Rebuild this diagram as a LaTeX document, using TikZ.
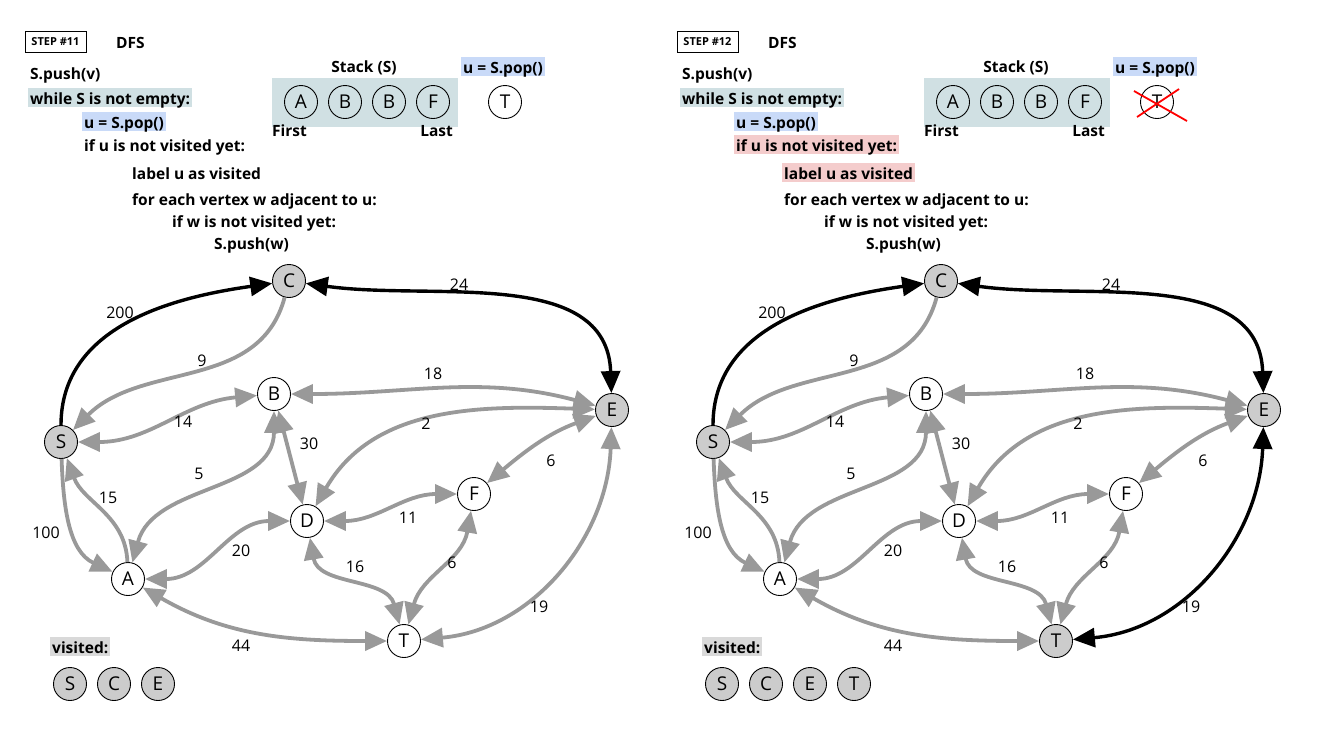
\documentclass[tikz,border=0pt]{standalone}
\usepackage{fontspec}
\setmainfont{Open Sans}
\usetikzlibrary{arrows.meta}
\definecolor{edgegrey}{HTML}{999999}
\definecolor{seengrey}{HTML}{CCCCCC}
\definecolor{stackteal}{HTML}{D0E0E3}
\definecolor{popblue}{HTML}{C9DAF8}
\definecolor{checkred}{HTML}{F4CCCC}
\definecolor{visitgrey}{HTML}{D9D9D9}
\tikzset{
    bigtip/.tip={Triangle[length=22pt, width=19pt]}, % the heavy arrow heads
    vertex/.style={circle, draw, line width=0.9pt, fill=white, minimum size=33pt, inner sep=0pt, font=\fontsize{19}{19}\selectfont},
    seen/.style={vertex, fill=seengrey}, % visited vertices
    weight/.style={inner sep=0pt, font=\fontsize{16}{16}\selectfont},
    code/.style={anchor=base west, inner xsep=2pt, inner ysep=1pt, text height=15pt, text depth=2pt, font=\fontsize{15.5}{18}\selectfont\bfseries},
    stepbox/.style={draw, line width=0.9pt, inner sep=0pt, minimum width=61pt, minimum height=21pt, font=\fontsize{11}{11}\selectfont\bfseries},
    grey edge/.style={draw=edgegrey, line width=3.8pt, bigtip-bigtip},
    black edge/.style={draw=black, line width=3.4pt, bigtip-bigtip},
    }

\begin{document}
\begin{tikzpicture}[x=1pt, y=1pt]
    \useasboundingbox (0,0) rectangle (1323,-748);

    % ---------- step 11 ----------
    \node[stepbox] (step11) at (55.5,-41.5) {STEP \#11};
    \node[code] (dfs11) at (114,-48) {DFS};
    \node[code] (push11) at (28,-79) {S.push(v)};
    \node[code, fill=stackteal] (while11) at (28,-104) {while S is not empty:};
    \node[code, fill=popblue] (pop11) at (82,-128) {u = S.pop()};
    \node[code] (ifu11) at (82,-151) {if u is not visited yet:};
    \node[code] (label11) at (130,-179) {label u as visited};
    \node[code] (for11) at (130,-205) {for each vertex w adjacent to u:};
    \node[code] (ifw11) at (170,-227) {if w is not visited yet:};
    \node[code] (pushw11) at (212,-249) {S.push(w)};

    \node[code, anchor=base] (stack11) at (364,-72) {Stack (S)};
    \fill[stackteal] (272,-78) rectangle (458,-127);
    \node[vertex, fill=none] (sa11) at (301,-102) {A};
    \node[vertex, fill=none] (sb11) at (345,-102) {B};
    \node[vertex, fill=none] (sc11) at (389,-102) {B};
    \node[vertex, fill=none] (sd11) at (433,-102) {F};
    \node[code] (first11) at (270,-136) {First};
    \node[code, anchor=base east] (last11) at (455,-136) {Last};
    \node[code, fill=popblue] (popped11) at (461,-73) {u = S.pop()};
    \node[vertex] (u11) at (505,-102) {T};

    \node[seen] (C11) at (289,-281) {C};
    \node[seen] (S11) at (61,-442) {S};
    \node[vertex] (B11) at (274,-394) {B};
    \node[seen] (E11) at (612,-410) {E};
    \node[vertex] (D11) at (307,-521) {D};
    \node[vertex] (F11) at (474,-494) {F};
    \node[vertex] (A11) at (128,-579) {A};
    \node[vertex] (T11) at (404,-641) {T};

    \draw[black edge, -bigtip] (S11) to[out=90, in=188] (C11);
    \draw[black edge] (C11) to[out=-8, in=92] (E11);
    \draw[grey edge, -bigtip] (C11) to[out=-105, in=45] (S11);
    \draw[grey edge] (S11) to[out=0, in=185] (B11);
    \draw[grey edge, -bigtip] (S11) to[out=-88, in=155] (A11);
    \draw[grey edge, -bigtip] (A11) to[out=92, in=-70] (S11);
    \draw[grey edge] (A11) to[out=75, in=-90] (B11);
    \draw[grey edge] (B11) -- (D11);
    \draw[grey edge] (B11) to[out=0, in=165] (E11);
    \draw[grey edge] (E11) to[out=178, in=60] (D11);
    \draw[grey edge] (E11) to[out=-160, in=40] (F11);
    \draw[grey edge] (D11) to[out=0, in=180] (F11);
    \draw[grey edge] (A11) to[out=0, in=180] (D11);
    \draw[grey edge] (D11) to[out=-80, in=105] (T11);
    \draw[grey edge] (F11) to[out=-100, in=75] (T11);
    \draw[grey edge] (E11) to[out=-92, in=5] (T11);
    \draw[grey edge] (A11) to[out=-30, in=180] (T11);

    \node[weight] at (120,-313) {200};
    \node[weight] at (202,-361) {9};
    \node[weight] at (459,-285) {24};
    \node[weight] at (433,-374) {18};
    \node[weight] at (183,-422) {14};
    \node[weight] at (426,-424) {2};
    \node[weight] at (309,-444) {30};
    \node[weight] at (551,-461) {6};
    \node[weight] at (199,-474) {5};
    \node[weight] at (108,-498) {15};
    \node[weight] at (408,-518) {11};
    \node[weight] at (46,-533) {100};
    \node[weight] at (241,-551) {20};
    \node[weight] at (355,-567) {16};
    \node[weight] at (452,-563) {6};
    \node[weight] at (539,-607) {19};
    \node[weight] at (241,-646) {44};

    \node[code, fill=visitgrey] (visited11) at (50,-653) {visited:};
    \node[seen] (vs11) at (70,-684) {S};
    \node[seen] (vc11) at (114,-684) {C};
    \node[seen] (ve11) at (158,-684) {E};

    % ---------- step 12 ----------
    \begin{scope}[xshift=652pt]
    \node[stepbox] (step12) at (55.5,-41.5) {STEP \#12};
    \node[code] (dfs12) at (114,-48) {DFS};
    \node[code] (push12) at (28,-79) {S.push(v)};
    \node[code, fill=stackteal] (while12) at (28,-104) {while S is not empty:};
    \node[code, fill=popblue] (pop12) at (82,-128) {u = S.pop()};
    \node[code, fill=checkred] (ifu12) at (82,-151) {if u is not visited yet:};
    \node[code, fill=checkred] (label12) at (130,-179) {label u as visited};
    \node[code] (for12) at (130,-205) {for each vertex w adjacent to u:};
    \node[code] (ifw12) at (170,-227) {if w is not visited yet:};
    \node[code] (pushw12) at (212,-249) {S.push(w)};

    \node[code, anchor=base] (stack12) at (364,-72) {Stack (S)};
    \fill[stackteal] (272,-78) rectangle (458,-127);
    \node[vertex, fill=none] (sa12) at (301,-102) {A};
    \node[vertex, fill=none] (sb12) at (345,-102) {B};
    \node[vertex, fill=none] (sc12) at (389,-102) {B};
    \node[vertex, fill=none] (sd12) at (433,-102) {F};
    \node[code] (first12) at (270,-136) {First};
    \node[code, anchor=base east] (last12) at (455,-136) {Last};
    \node[code, fill=popblue] (popped12) at (461,-73) {u = S.pop()};
    \node[vertex] (u12) at (505,-102) {T};
    \draw[red, line width=1.8pt] (482,-91) -- (535,-121);
    \draw[red, line width=1.8pt] (485,-117) -- (527,-89);

    \node[seen] (C12) at (289,-281) {C};
    \node[seen] (S12) at (61,-442) {S};
    \node[vertex] (B12) at (274,-394) {B};
    \node[seen] (E12) at (612,-410) {E};
    \node[vertex] (D12) at (307,-521) {D};
    \node[vertex] (F12) at (474,-494) {F};
    \node[vertex] (A12) at (128,-579) {A};
    \node[seen] (T12) at (404,-641) {T};

    \draw[black edge, -bigtip] (S12) to[out=90, in=188] (C12);
    \draw[black edge] (C12) to[out=-8, in=92] (E12);
    \draw[grey edge, -bigtip] (C12) to[out=-105, in=45] (S12);
    \draw[grey edge] (S12) to[out=0, in=185] (B12);
    \draw[grey edge, -bigtip] (S12) to[out=-88, in=155] (A12);
    \draw[grey edge, -bigtip] (A12) to[out=92, in=-70] (S12);
    \draw[grey edge] (A12) to[out=75, in=-90] (B12);
    \draw[grey edge] (B12) -- (D12);
    \draw[grey edge] (B12) to[out=0, in=165] (E12);
    \draw[grey edge] (E12) to[out=178, in=60] (D12);
    \draw[grey edge] (E12) to[out=-160, in=40] (F12);
    \draw[grey edge] (D12) to[out=0, in=180] (F12);
    \draw[grey edge] (A12) to[out=0, in=180] (D12);
    \draw[grey edge] (D12) to[out=-80, in=105] (T12);
    \draw[grey edge] (F12) to[out=-100, in=75] (T12);
    \draw[black edge] (E12) to[out=-92, in=5] (T12);
    \draw[grey edge] (A12) to[out=-30, in=180] (T12);

    \node[weight] at (120,-313) {200};
    \node[weight] at (202,-361) {9};
    \node[weight] at (459,-285) {24};
    \node[weight] at (433,-374) {18};
    \node[weight] at (183,-422) {14};
    \node[weight] at (426,-424) {2};
    \node[weight] at (309,-444) {30};
    \node[weight] at (551,-461) {6};
    \node[weight] at (199,-474) {5};
    \node[weight] at (108,-498) {15};
    \node[weight] at (408,-518) {11};
    \node[weight] at (46,-533) {100};
    \node[weight] at (241,-551) {20};
    \node[weight] at (355,-567) {16};
    \node[weight] at (452,-563) {6};
    \node[weight] at (539,-607) {19};
    \node[weight] at (241,-646) {44};

    \node[code, fill=visitgrey] (visited12) at (50,-653) {visited:};
    \node[seen] (vs12) at (70,-684) {S};
    \node[seen] (vc12) at (114,-684) {C};
    \node[seen] (ve12) at (158,-684) {E};
    \node[seen] (vt12) at (202,-684) {T};
    \end{scope}
\end{tikzpicture}
\end{document}
